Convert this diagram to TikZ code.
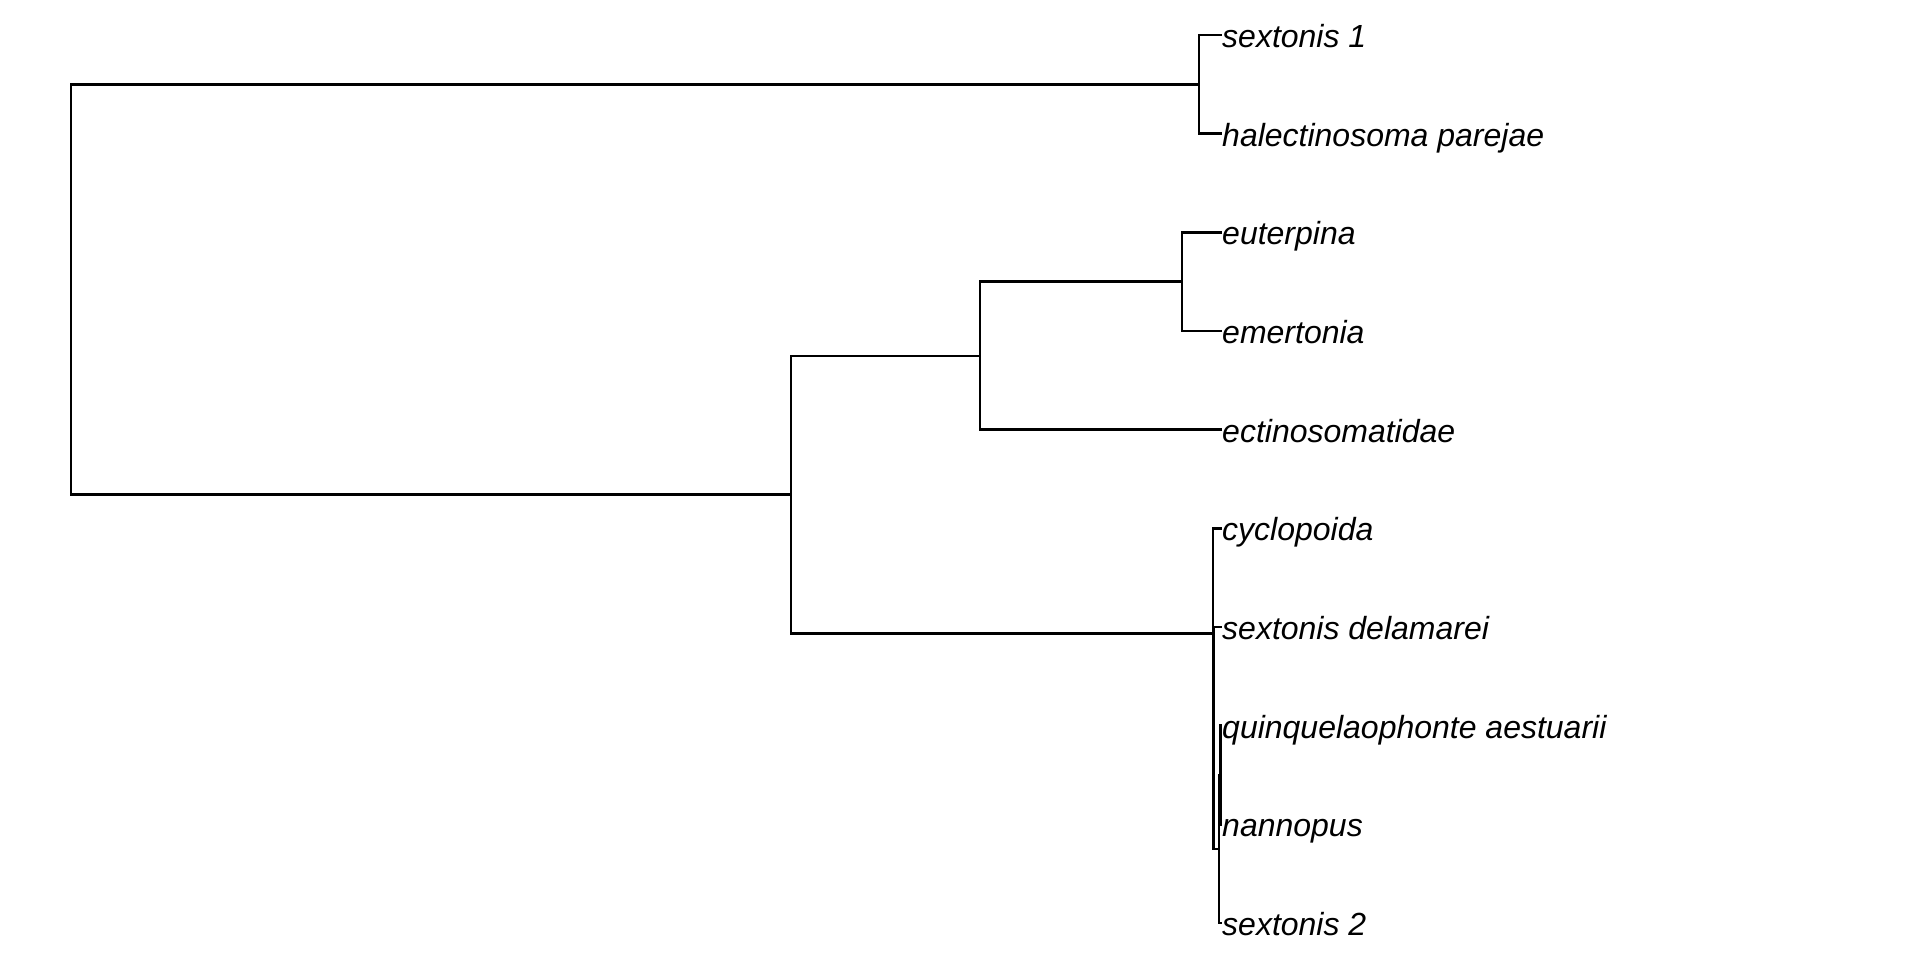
\documentclass[tikz,border=0pt]{standalone}
\usepackage{fontspec}
\setmainfont{Liberation Sans}
\begin{document}
\begin{tikzpicture}[x=1pt,y=-1pt,
  edge/.style={draw=black,line width=2.7pt},
  lab/.style={anchor=base west,inner sep=0pt,font=\fontsize{32}{38}\selectfont\itshape}]
\useasboundingbox[fill=white] (0,0) rectangle (1920,960);
% tips
\coordinate (t1) at (1222,35);
\coordinate (t2) at (1222,133.7);
\coordinate (t3) at (1222,232.3);
\coordinate (t4) at (1222,331);
\coordinate (t5) at (1222,429.7);
\coordinate (t6) at (1222,528.3);
\coordinate (t7) at (1222,627);
\coordinate (t8) at (1222,725.7);
\coordinate (t9) at (1222,824.3);
\coordinate (t10) at (1222,923);
% internal nodes
\coordinate (R) at (71,289.5);
\coordinate (N1) at (1199,84.4);
\coordinate (N2) at (791,494.5);
\coordinate (N3) at (980,356);
\coordinate (N4) at (1182,281.7);
\coordinate (A) at (1213,633.2);
\coordinate (B) at (1213.8,738);
\coordinate (C) at (1219,849);
\coordinate (D) at (1220.8,775);
% labels
\node[lab] (l1) at ([yshift=-12.5pt]t1) {sextonis 1};
\node[lab] (l2) at ([yshift=-12.5pt]t2) {halectinosoma parejae};
\node[lab] (l3) at ([yshift=-12.5pt]t3) {euterpina};
\node[lab] (l4) at ([yshift=-12.5pt]t4) {emertonia};
\node[lab] (l5) at ([yshift=-12.5pt]t5) {ectinosomatidae};
\node[lab] (l6) at ([yshift=-12.5pt]t6) {cyclopoida};
\node[lab] (l7) at ([yshift=-12.5pt]t7) {sextonis delamarei};
\node[lab] (l8) at ([yshift=-12.5pt]t8) {quinquelaophonte aestuarii};
\node[lab] (l9) at ([yshift=-12.5pt]t9) {nannopus};
\node[lab] (l10) at ([yshift=-12.5pt]t10) {sextonis 2};
% edges
\draw[edge] (R) |- (N1);
\draw[edge] (R) |- (N2);
\draw[edge] (N1) |- (t1);
\draw[edge] (N1) |- (t2);
\draw[edge] (N2) |- (N3);
\draw[edge] (N2) |- (A);
\draw[edge] (N3) |- (N4);
\draw[edge] (N3) |- (t5);
\draw[edge] (N4) |- (t3);
\draw[edge] (N4) |- (t4);
\draw[edge] (A) |- (t6);
\draw[edge] (A) |- (B);
\draw[edge] (B) |- (t7);
\draw[edge] (B) |- (C);
\draw[edge] (C) |- (D);
\draw[edge] (C) |- (t10);
\draw[edge] (D) |- (t8);
\draw[edge] (D) |- (t9);
\end{tikzpicture}
\end{document}
